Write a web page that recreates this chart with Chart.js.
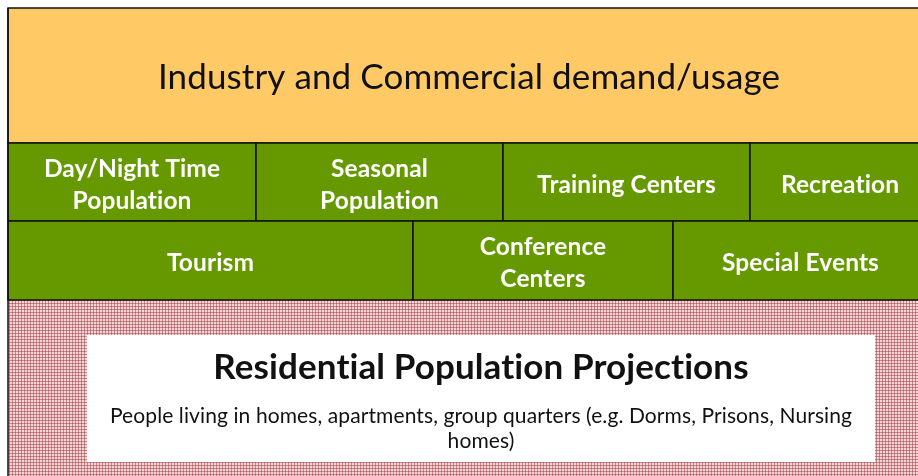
<!DOCTYPE html>
<html>
<head>
<meta charset="utf-8">
<script src="https://cdn.jsdelivr.net/npm/chart.js@4.4.1/dist/chart.umd.min.js"></script>
<style>
  html, body { margin: 0; padding: 0; background: #fff; }
  #wrap { width: 918px; height: 476px; position: relative; }
</style>
</head>
<body>
<div id="wrap"><canvas id="layerChart"></canvas></div>
<script>
// diagram units: 910 wide, 468 tall
const topLabel = 'Industry and Commercial demand/usage';
const row1Labels = [['Day/Night Time', 'Population'], ['Seasonal', 'Population'], 'Training Centers', 'Recreation'];
const row1Edges = [0, 248, 495, 742, 910];
const row2Labels = ['Tourism', ['Conference', 'Centers'], 'Special Events'];
const row2Edges = [0, 405, 665, 910];
const bandEdges = [0, 135, 213, 292, 468];
const baseLabel = 'Residential Population Projections';
const baseNote = ['People living in homes, apartments, group quarters (e.g. Dorms, Prisons, Nursing', 'homes)'];
const noteBox = [79, 867, 327, 454];

function makePattern(ctx) {
    var c = document.createElement('canvas');
    c.width = 3; c.height = 3;
    var p = c.getContext('2d');
    p.fillStyle = '#f2d6d6';
    p.fillRect(0, 0, 3, 3);
    p.fillStyle = '#cb8488';
    p.fillRect(0, 0, 3, 1);
    p.fillRect(0, 0, 1, 3);
    p.fillStyle = '#ad6266';
    p.fillRect(0, 0, 1, 1);
    return ctx.createPattern(c, 'repeat');
}

const blocksPlugin = {
    id: 'blocks',
    beforeDatasetsDraw(chart) {
        const ctx = chart.ctx;
        const x = chart.scales.x, y = chart.scales.y;
        const px = v => x.getPixelForValue(v);
        const py = v => y.getPixelForValue(v);

        function box(x0, x1, y0, y1, fill, stroke) {
            ctx.fillStyle = fill;
            ctx.fillRect(px(x0), py(y0), px(x1) - px(x0), py(y1) - py(y0));
            if (stroke) {
                ctx.strokeStyle = '#111';
                ctx.lineWidth = 1.5;
                ctx.strokeRect(px(x0), py(y0), px(x1) - px(x0), py(y1) - py(y0));
            }
        }
        function label(text, cx, cy, font, color, lh) {
            const lines = Array.isArray(text) ? text : [text];
            ctx.font = font;
            ctx.letterSpacing = '0.1px'; // no ligatures
            ctx.fillStyle = color;
            ctx.textAlign = 'center';
            ctx.textBaseline = 'middle';
            const start = cy - (lines.length - 1) * lh / 2;
            lines.forEach((l, i) => ctx.fillText(l, cx, start + i * lh));
        }

        ctx.save();
        // residential band
        box(0, 910, bandEdges[3], bandEdges[4] + 20, makePattern(ctx), false);
        box(noteBox[0], noteBox[1], noteBox[2], noteBox[3], '#ffffff', false);
        // industry band
        box(0, 912, bandEdges[0], bandEdges[1], '#ffc966', true);
        label(topLabel, px(461), py(bandEdges[0] + 70), '35px Lato', '#111', 0);
        // row 1
        row1Labels.forEach((t, i) => {
            const last = i === row1Labels.length - 1;
            box(row1Edges[i], row1Edges[i + 1] + (last ? 2 : 0), bandEdges[1], bandEdges[2], '#669900', true);
            label(t, (px(row1Edges[i]) + px(row1Edges[i + 1])) / 2 + (last ? 6 : 0), (py(bandEdges[1]) + py(bandEdges[2])) / 2 + 3,
                'bold 24.5px Lato', '#ffffff', 32);
        });
        // row 2
        row2Labels.forEach((t, i) => {
            const last = i === row2Labels.length - 1;
            box(row2Edges[i], row2Edges[i + 1] + (last ? 2 : 0), bandEdges[2], bandEdges[3], '#669900', true);
            label(t, (px(row2Edges[i]) + px(row2Edges[i + 1])) / 2 + (last ? 5 : 0), (py(bandEdges[2]) + py(bandEdges[3])) / 2 + 3,
                'bold 24.5px Lato', '#ffffff', 32);
        });
        // left edge line
        ctx.strokeStyle = '#111';
        ctx.lineWidth = 1.5;
        ctx.beginPath();
        ctx.moveTo(px(0), py(0));
        ctx.lineTo(px(0), py(468) + 10);
        ctx.stroke();
        // residential text
        const cx = (px(noteBox[0]) + px(noteBox[1])) / 2;
        label(baseLabel, cx, py(noteBox[2] + 33), 'bold 35px Lato', '#111', 0);
        label(baseNote, cx, py(noteBox[2] + 94), '21px Lato', '#111', 25);
        ctx.restore();
    }
};

new Chart(document.getElementById('layerChart').getContext('2d'), {
    type: 'scatter',
    data: { datasets: [] },
    options: {
        responsive: true,
        maintainAspectRatio: false,
        animation: false,
        layout: { padding: { left: 8, top: 8, right: 0, bottom: 0 } },
        plugins: { legend: { display: false }, tooltip: { enabled: false } },
        scales: {
            x: { type: 'linear', min: 0, max: 910, display: false },
            y: { type: 'linear', min: 0, max: 468, reverse: true, display: false }
        }
    },
    plugins: [blocksPlugin]
});
</script>
</body>
</html>
